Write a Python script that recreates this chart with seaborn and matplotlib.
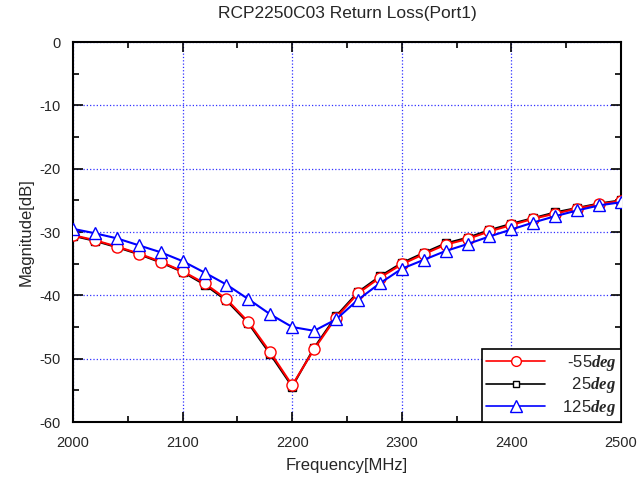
import matplotlib
matplotlib.use("Agg")
import matplotlib.pyplot as plt
from matplotlib.ticker import MultipleLocator
from matplotlib.lines import Line2D
import seaborn as sns
import pandas as pd

sns.set_theme(style="ticks")
plt.rcParams['font.family'] = ['Liberation Sans', 'DejaVu Sans']
plt.rcParams['mathtext.fontset'] = 'custom'
plt.rcParams['mathtext.it'] = 'Liberation Serif:italic:bold'
plt.rcParams['mathtext.rm'] = 'Liberation Serif:bold'
plt.rcParams['axes.unicode_minus'] = False

# frequency points [MHz]
freq = list(range(2000, 2501, 20))
# return loss [dB] per temperature
rl_m55 = [-30.5, -31.3, -32.3, -33.4, -34.7, -36.2, -38.1, -40.6, -44.2, -49.0,
          -54.2, -48.5, -43.5, -39.7, -37.2, -35.1, -33.5, -32.0, -31.1, -29.9,
          -28.9, -27.9, -27.1, -26.3, -25.6, -25.1]
rl_25 = [-30.6, -31.4, -32.4, -33.5, -34.8, -36.3, -38.3, -40.8, -44.4, -49.3,
         -54.4, -48.3, -43.3, -39.5, -37.0, -34.9, -33.3, -31.8, -30.9, -29.7,
         -28.7, -27.8, -26.9, -26.2, -25.5, -25.0]
rl_125 = [-29.5, -30.2, -31.0, -32.1, -33.2, -34.6, -36.4, -38.3, -40.6, -43.0,
          -45.0, -45.6, -43.8, -40.7, -38.1, -35.8, -34.4, -33.0, -31.9, -30.7,
          -29.6, -28.5, -27.5, -26.6, -25.8, -25.3]
colors = ['red', 'black', 'blue']
markers = ['o', 's', '^']
msizes = [8, 6, 9]
zorders = [4, 3, 5]

fig = plt.figure(figsize=(6.4, 4.79), dpi=100)
ax = fig.add_axes([73 / 640, 1 - 422 / 479, 548 / 640, 380 / 479])

series = [rl_m55, rl_25, rl_125]
for i in [1, 0, 2]:
    df = pd.DataFrame({'f': freq, 'rl': series[i]})
    sns.lineplot(data=df, x='f', y='rl', ax=ax, color=colors[i], marker=markers[i],
                 markersize=msizes[i], markerfacecolor='white', markeredgecolor=colors[i],
                 markeredgewidth=1.0, linewidth=1.5, zorder=zorders[i])

ax.set_xlim(2000, 2500)
ax.set_ylim(-60, 0)
ax.xaxis.set_major_locator(MultipleLocator(100))
ax.xaxis.set_minor_locator(MultipleLocator(50))
ax.yaxis.set_major_locator(MultipleLocator(10))
ax.yaxis.set_minor_locator(MultipleLocator(5))
ax.tick_params(which='both', direction='in', top=True, right=True, labelsize=10.5,
               color='black', width=1.2)
ax.tick_params(axis='x', pad=10)
ax.tick_params(axis='y', pad=9)
ax.tick_params(which='major', length=7)
ax.tick_params(which='minor', length=4)
ax.grid(True, which='major', color='#3030ff', linestyle=':', linewidth=0.9)
for s in ax.spines.values():
    s.set_linewidth(1.5)
    s.set_color('black')

ax.set_xlabel('Frequency[MHz]', fontsize=12, labelpad=6)
ax.set_ylabel('Magnitude[dB]', fontsize=12)
ax.set_title('RCP2250C03 Return Loss(Port1)', fontsize=12.5, pad=17)

handles = [Line2D([], [], color=colors[i], marker=markers[i], markersize=msizes[i] - 1,
                  markerfacecolor='white', markeredgecolor=colors[i], linewidth=1.2)
           for i in range(3)]
leg_labels = ['  -55$deg$', '   25$deg$', ' 125$deg$']
leg = ax.legend(handles, leg_labels, loc='lower right', fontsize=12, frameon=True,
                fancybox=False, edgecolor='black', framealpha=1, borderaxespad=0,
                handlelength=3.5, labelspacing=0.15, borderpad=0.25)
leg.get_frame().set_linewidth(1.2)
leg.set_zorder(10)

fig.savefig('out.png', dpi=100)
